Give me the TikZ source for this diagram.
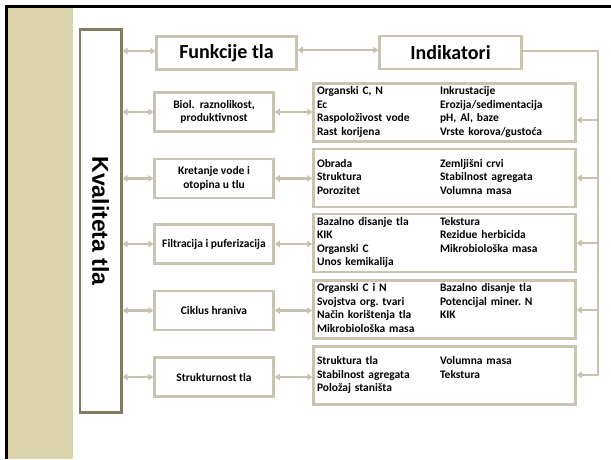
\documentclass[tikz,border=0pt]{standalone}
\usepackage{fontspec}
\setmainfont{Carlito}
\newfontfamily\kvfont{Liberation Sans}
\usetikzlibrary{arrows.meta,calc}
\definecolor{stripc}{HTML}{DCD4AC}
\definecolor{bxc}{HTML}{C9C3B2}
\definecolor{arrc}{HTML}{C8C1B0}
\definecolor{kbc}{HTML}{827C62}
\frenchspacing
\tikzset{
  boxbase/.style={draw=bxc, line width=2.5pt, fill=white, inner sep=0pt,
    font=\bfseries\fontsize{11.5}{13.5}\selectfont, align=center},
  funbox/.style={boxbase, minimum width=119pt, minimum height=39pt},
  indbox/.style={boxbase, minimum width=262pt, minimum height=58pt, text width=255pt, align=left},
  titlebox/.style={boxbase, font=\bfseries\fontsize{20}{24}\selectfont, minimum height=33pt},
  conn/.style={draw=arrc, line width=2.3pt},
  dbl/.style={conn, {Triangle[length=5pt,width=6.5pt]}-{Triangle[length=5pt,width=6.5pt]}},
  sgl/.style={conn, -{Triangle[length=5pt,width=6.5pt]}},
}
\newcommand{\twocol}[1]{\begin{tabular}{@{}p{123pt}@{}l@{}}#1\end{tabular}}
\begin{document}
\begin{tikzpicture}[x=1pt,y=-1pt]
\useasboundingbox (0,0) rectangle (611,459);
\fill[white] (0,0) rectangle (611,459);
% frame and strip
\fill[stripc] (8,8) rectangle (73,459);
\fill[black] (5,5) rectangle (611,8);
\fill[black] (5,5) rectangle (8,459);
% main vertical box
\node[draw=kbc, line width=2.5pt, fill=white, minimum width=41.5pt, minimum height=383pt, inner sep=0pt] (kq) at (100.5,221) {};
\node[rotate=-90, font=\kvfont\bfseries\fontsize{23}{27}\selectfont] (kqt) at (100.5,221) {Kvaliteta tla};
% titles
\node[titlebox, minimum width=140pt] (fun) at (226.5,53) {Funkcije tla};
\node[titlebox, minimum width=142pt] (ind) at (450.5,52.5) {Indikatori};
% function boxes
\node[funbox] (f1) at (214,112) {Biol.\ \ raznolikost,\\produktivnost};
\node[funbox] (f2) at (214,178.5) {Kretanje vode i\\otopina u tlu};
\node[funbox] (f3) at (214,244) {Filtracija i puferizacija};
\node[funbox] (f4) at (214,310.5) {Ciklus hraniva};
\node[funbox] (f5) at (214,377) {Strukturnost tla};
% indicator boxes
\node[indbox] (b1) at (444.5,112.5) {\twocol{Organski C, N & Inkrustacije\\ Ec & Erozija/sedimentacija\\ Raspoloživost vode & pH, Al, baze\\ Rast korijena & Vrste korova/gustoća}};
\node[indbox] (b2) at (444.5,178) {\twocol{Obrada & Zemljišni crvi\\ Struktura & Stabilnost agregata\\ Porozitet & Volumna masa}};
\node[indbox] (b3) at (444.5,243) {\twocol{Bazalno disanje tla & Tekstura\\ KIK & Rezidue herbicida\\ Organski C & Mikrobiološka masa\\ Unos kemikalija & }};
\node[indbox] (b4) at (444.5,309.5) {\twocol{Organski C i N & Bazalno disanje tla\\ Svojstva org. tvari & Potencijal miner. N\\ Način korištenja tla & KIK\\ Mikrobiološka masa & }};
\node[indbox] (b5) at (444.5,375.5) {\twocol{Struktura tla & Volumna masa\\ Stabilnost agregata & Tekstura\\ Položaj staništa & }};
% connectors left
\coordinate (k0) at ($(fun.west)+(0,-2)$);
\draw[dbl] (k0 -| kq.east) -- (k0);
\foreach \i in {1,...,5} {
  \draw[dbl] (f\i.west -| kq.east) -- (f\i.west);
  \draw[dbl] (f\i.east) -- (f\i.east -| b\i.west);
}
\coordinate (m0) at ($(fun.east)+(0,-3)$);
\draw[dbl] (m0) -- (m0 -| ind.west);
% right rail
\coordinate (rtop) at (598,51);
\coordinate (r1) at (598,120);
\coordinate (r2) at (598,178);
\coordinate (r3) at (598,243);
\coordinate (r4) at (598,310);
\coordinate (r5) at (598,375);
\draw[conn] (ind.east |- rtop) -- (rtop) -- (r5);
\foreach \i in {1,...,5} {
  \draw[sgl] (r\i) -- (r\i -| b\i.east);
}
\end{tikzpicture}
\end{document}
